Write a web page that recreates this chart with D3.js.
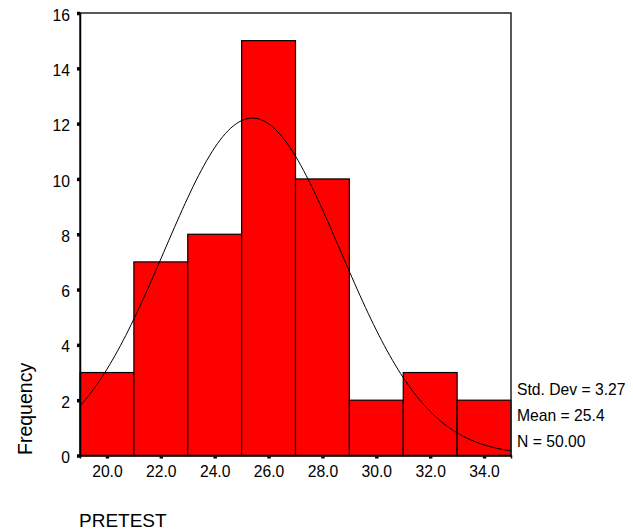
<!DOCTYPE html>
<html>
<head>
<meta charset="utf-8">
<script src="https://cdn.jsdelivr.net/npm/d3@7"></script>
<style>
  body { margin: 0; background: #fff; }
  text { font-family: Arial, "Liberation Sans", sans-serif; fill: #000; }
</style>
</head>
<body>
<div id="chart"></div>
<script>
// Histogram of PRETEST (bins of width 2)
var binCenters = [20, 22, 24, 26, 28, 30, 32, 34];
var counts = [3, 7, 8, 15, 10, 2, 3, 2];
var xTicks = [20, 22, 24, 26, 28, 30, 32, 34];
var yTicks = [0, 2, 4, 6, 8, 10, 12, 14, 16];
var statLabels = ["Std. Dev = 3.27", "Mean = 25.4", "N = 50.00"];
var stdDev = 3.27, mean = 25.4, n = 50, binWidth = 2;

var width = 633, height = 531;
var margin = { top: 13, right: 122, bottom: 75.5, left: 80 };
var w = width - margin.left - margin.right,
  h = height - margin.top - margin.bottom;

var svg = d3
  .select("#chart")
  .append("svg")
  .attr("width", width)
  .attr("height", height)
  .style("display", "block");

var g = svg
  .append("g")
  .attr("transform", "translate(" + margin.left + "," + margin.top + ")");

var x = d3.scaleLinear().domain([19, 35]).range([0, w]);
var y = d3.scaleLinear().domain([0, 16]).range([h, 0]);

// bars
g.selectAll("rect.bar")
  .data(binCenters)
  .join("rect")
  .attr("class", "bar")
  .attr("x", (d) => x(d - binWidth / 2))
  .attr("y", (d, i) => y(counts[i]))
  .attr("width", (d) => x(d + binWidth / 2) - x(d - binWidth / 2))
  .attr("height", (d, i) => y(0) - y(counts[i]))
  .attr("fill", "#ff0000")
  .attr("stroke", "#000")
  .attr("stroke-width", 1.2);

// normal curve from mean / std dev
var curvePts = d3.range(19, 35.001, 0.1).map(function (v) {
  var z = (v - mean) / stdDev;
  return [v, (n * binWidth) / (stdDev * Math.sqrt(2 * Math.PI)) * Math.exp(-0.5 * z * z)];
});
g.append("path")
  .datum(curvePts)
  .attr("fill", "none")
  .attr("stroke", "#000")
  .attr("stroke-width", 1)
  .attr("d", d3.line().x((d) => x(d[0])).y((d) => y(d[1])));

// frame
g.append("rect")
  .attr("x", 0)
  .attr("y", 0)
  .attr("width", w)
  .attr("height", h)
  .attr("fill", "none")
  .attr("stroke", "#222")
  .attr("stroke-width", 1.5);

// axes with square tick marks
var yAxis = g
  .append("g")
  .call(d3.axisLeft(y).tickValues(yTicks).tickSize(3).tickPadding(7).tickFormat(d3.format("d")));
var xAxis = g
  .append("g")
  .attr("transform", "translate(0," + h + ")")
  .call(d3.axisBottom(x).tickValues(xTicks).tickSize(3).tickPadding(7).tickFormat(d3.format(".1f")));

[xAxis, yAxis].forEach(function (a) {
  a.select(".domain").attr("stroke", "#000").attr("stroke-width", 1.5);
  a.selectAll(".tick line").attr("stroke", "#000").attr("stroke-width", 3.5);
  a.selectAll(".tick text").style("font-size", "15.7px").attr("fill", "#000");
});
yAxis.selectAll(".tick text").attr("dy", "0.45em");
xAxis.selectAll(".tick line").attr("y1", 1);

// stats
svg.selectAll("text.stat")
  .data(statLabels)
  .join("text")
  .attr("class", "stat")
  .attr("x", 517)
  .attr("y", (d, i) => 395 + i * 26)
  .style("font-size", "15.7px")
  .text((d) => d);

// axis titles
svg.append("text")
  .attr("transform", "translate(32,455) rotate(-90)")
  .style("font-size", "19.5px")
  .text("Frequency");

svg.append("text")
  .attr("x", 79)
  .attr("y", 527)
  .style("font-size", "19px")
  .text("PRETEST");
</script>
</body>
</html>
